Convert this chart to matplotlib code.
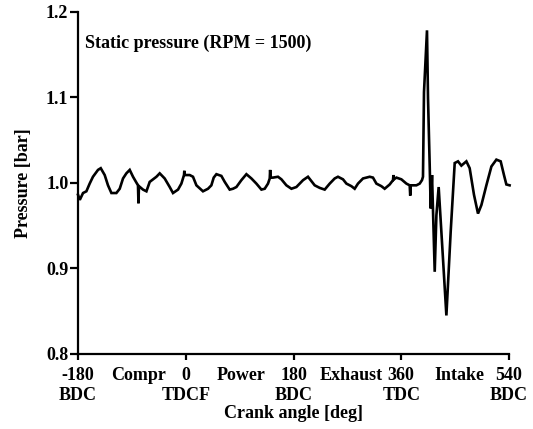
import matplotlib
matplotlib.use("Agg")
import matplotlib.pyplot as plt

crank_angle = [
    -180, -177, -171.6, -166, -160.5, -155, -146.6, -142, -135.4, -129.9,
    -124.2, -115.9, -110.3, -104.8, -99.2, -93.6, -88.1, -79.8, -79.0, -78.2,
    -71.4, -65.7, -60.2, -49, -43.5, -35.2, -26.8, -21.3, -12.9, -7.3,
    -2.9, -2.4, -1.9, 6.6, 12.1, 17.8, 28.8, 37.2, 42.8, 46.7,
    51.2, 59.5, 65.1, 73.4, 78.9, 84.6, 92.9, 101.3, 109.7, 118,
    126.4, 131.9, 137.4, 140.3, 141.0, 141.7, 145.7, 154.1, 159.8, 168.1,
    176.5, 184.8, 195.9, 204.2, 215.4, 223.8, 232.1, 240.5, 248.8, 254.3,
    262.7, 268.4, 276.7, 282.2, 287.7, 296.1, 307.3, 312.8, 318.5, 326.8,
    332.3, 340.7, 346.2, 347.0, 347.8, 351.9, 360.2, 368.6, 374.1, 375.0,
    375.9, 377, 385.3, 390.8, 394.6, 396.3, 398, 403, 404.7, 407.5,
    409.2, 411.4, 415.9, 418.7, 422.5, 427, 435.4, 442.6, 449.3, 454.8,
    460.4, 468.8, 474.3, 481.5, 488.2, 493.9, 502.2, 510.6, 518.9, 526.1,
    531.6, 535.6, 541,
]

pressure = [
    0.986, 0.980, 0.988, 0.990, 0.999, 1.007, 1.015, 1.017, 1.009, 0.997,
    0.988, 0.988, 0.993, 1.005, 1.011, 1.015, 1.007, 0.997, 0.976, 0.996,
    0.992, 0.990, 1.001, 1.007, 1.011, 1.005, 0.995, 0.988, 0.992, 0.999,
    1.009, 1.014, 1.009, 1.009, 1.007, 0.997, 0.990, 0.993, 0.997, 1.006,
    1.010, 1.008, 1.001, 0.992, 0.993, 0.995, 1.003, 1.010, 1.005, 0.999,
    0.992, 0.993, 0.999, 1.005, 1.015, 1.006, 1.006, 1.007, 1.004, 0.997,
    0.993, 0.995, 1.003, 1.007, 0.997, 0.994, 0.992, 0.999, 1.005, 1.007,
    1.004, 0.999, 0.996, 0.993, 0.999, 1.005, 1.007, 1.006, 0.999, 0.996,
    0.993, 0.998, 1.003, 1.009, 1.004, 1.006, 1.004, 0.999, 0.997, 0.985,
    0.997, 0.997, 0.997, 0.999, 1.003, 1.007, 1.106, 1.178, 1.099, 1.021,
    0.970, 1.009, 0.896, 0.962, 0.995, 0.943, 0.845, 0.943, 1.023, 1.025,
    1.020, 1.025, 1.017, 0.986, 0.964, 0.974, 0.997, 1.019, 1.027, 1.025,
    1.009, 0.998, 0.997,
]

major_ticks = [-180, 0, 180, 360, 540]
major_labels = ["-180\nBDC", "0\nTDCF", "180\nBDC", "360\nTDC", "540\nBDC"]
stroke_positions = [-78, 93, 276, 457]
stroke_labels = ["Compr", "Power", "Exhaust", "Intake"]
y_ticks = [0.8, 0.9, 1.0, 1.1, 1.2]
y_tick_labels = ["0.8", "0.9", "1.0", "1.1", "1.2"]

plt.rcParams["font.family"] = ["Liberation Serif", "DejaVu Serif"]
plt.rcParams["font.weight"] = "bold"
plt.rcParams["axes.labelweight"] = "bold"
fs = 13

fig = plt.figure(figsize=(5.33, 4.29), dpi=100)
ax = fig.add_axes([78 / 533, 1 - 354 / 429, (509 - 78) / 533, (354 - 11.5) / 429])

ax.plot(crank_angle, pressure, color="black", lw=1.9, clip_on=False,
        solid_joinstyle="miter")

ax.set_xlim(-180, 540)
ax.set_ylim(0.8, 1.2)
for s in ["top", "right"]:
    ax.spines[s].set_visible(False)
for s in ["left", "bottom"]:
    ax.spines[s].set_linewidth(1.6)

ax.set_yticks(y_ticks)
ax.set_yticklabels(y_tick_labels, fontsize=fs)
ax.set_xticks(major_ticks)
ax.set_xticklabels(major_labels, fontsize=fs, linespacing=1.25)
ax.set_xticks(stroke_positions, minor=True)
ax.set_xticklabels(stroke_labels, minor=True, fontsize=fs, va="top")
ax.tick_params(axis="y", direction="out", length=6, width=1.6, pad=1)
ax.tick_params(axis="x", which="major", direction="out", length=4, width=1.6, pad=5)
ax.tick_params(axis="x", which="minor", length=0, pad=9)

ax.set_ylabel("Pressure [bar]", fontsize=fs, labelpad=10)
ax.set_xlabel("Crank angle [deg]", fontsize=fs, labelpad=1)

ax.text(-169, 1.163, "Static pressure (RPM = 1500)", fontsize=fs,
        ha="left", va="center")

fig.savefig("out.png", dpi=100)
